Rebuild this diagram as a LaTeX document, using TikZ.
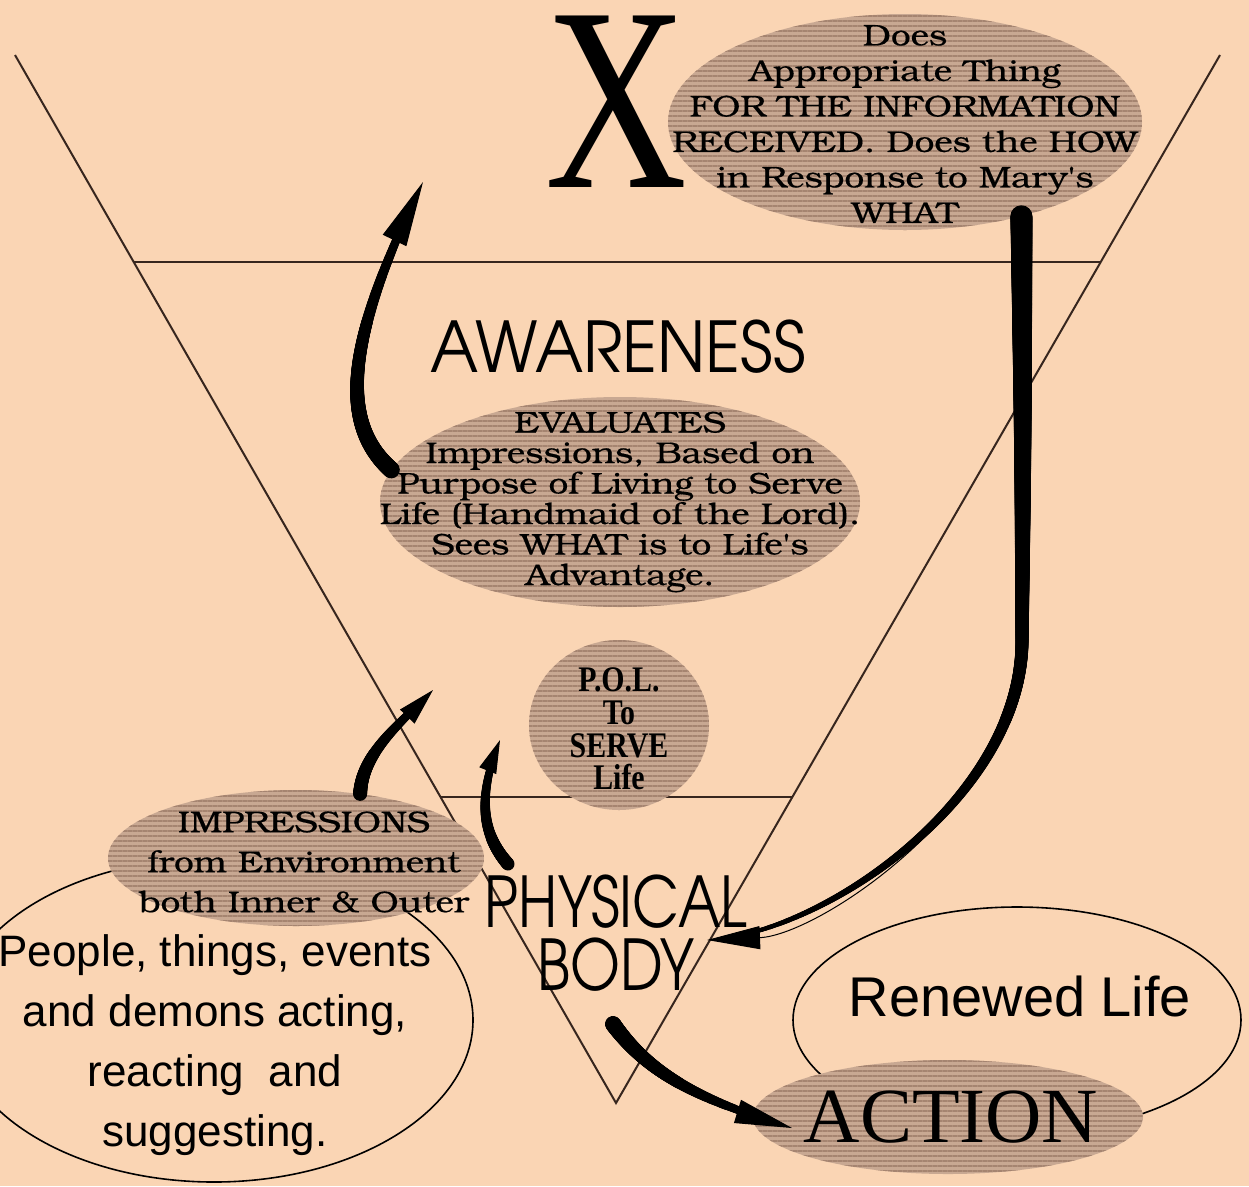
\documentclass[tikz,border=0pt]{standalone}
\usepackage{fontspec}
\setmainfont{Liberation Serif}
\newfontfamily\bookfont[FakeStretch=1.17, FakeBold=0.5]{TeX Gyre Bonum}
\newfontfamily\gothfont[FakeStretch=0.93]{TeX Gyre Adventor}
\newfontfamily\bodyfont[FakeStretch=0.82]{TeX Gyre Adventor}
\newfontfamily\arialfont{Liberation Sans}
\newfontfamily\polfont[FakeStretch=0.83]{Liberation Serif}
\usetikzlibrary{arrows.meta, patterns.meta, shapes.geometric, decorations.markings}

\definecolor{paper}{RGB}{250,213,180}
\definecolor{blobfill}{RGB}{200,168,146}
\definecolor{blobline}{RGB}{165,132,112}
\definecolor{inkline}{RGB}{55,38,30}

\tikzset{
  blob/.style={ellipse, inner sep=0pt, fill=blobfill,
    postaction={pattern={Lines[angle=0, distance=5pt, line width=2pt]}, pattern color=blobline}},
  ring/.style={ellipse, inner sep=0pt, draw=black, line width=1.6pt},
  vline/.style={draw=inkline, line width=2pt},
  taper/.style n args={3}{postaction={decorate, decoration={markings,
      mark=between positions 0 and #3 step 0.7pt with {%
        \pgfmathsetmacro\tapr{#1+(#2-#1)*\pgfkeysvalueof{/pgf/decoration/mark info/distance from start}/\pgfdecoratedpathlength}%
        \fill (0,0) circle (\tapr pt);}}}},
  headed/.style 2 args={line width=1pt, -{Triangle[length=#1pt, width=#2pt]}},
  words/.style={inner sep=0pt, align=center},
  booktext/.style={words, font=\bookfont\fontsize{30}{#1}\selectfont},
}

\begin{document}
\begin{tikzpicture}[x=1pt, y=-1pt]
\fill[paper] (0,0) rectangle (1249,1186);
\useasboundingbox (0,0) rectangle (1249,1186);

% the V and its two levels
\coordinate (vtl) at (15,55);
\coordinate (vtr) at (1220,55);
\coordinate (vbot) at (616,1103);
\draw[vline] (vtl) -- (vbot) -- (vtr);
\draw[vline] (134,262) -- (1101,262);
\draw[vline] (441,797) -- (792,797);

% outline rings
\node[ring, minimum width=518pt, minimum height=324pt] (people) at (214,1020) {};
\node[ring, minimum width=448pt, minimum height=226pt] (renewed) at (1017,1020) {};

% shaded blobs
\node[blob, minimum width=474pt, minimum height=216pt] (doing) at (905,122) {};
\node[blob, minimum width=480pt, minimum height=210pt] (evaluates) at (620,502) {};
\node[blob, minimum width=180pt, minimum height=170pt] (pol) at (619,725) {};
\node[blob, minimum width=376pt, minimum height=136pt] (impressions) at (296,858) {};
\node[blob, minimum width=390pt, minimum height=114pt] (action) at (948,1117) {};

% texts
\node[words, font=\fontsize{262}{262}\selectfont, anchor=base] (bigx) at (616,187) {\scalebox{0.75}[1]{X}};
\node[booktext=35.5] (doingtext) at (905,124) {Does\\Appropriate Thing\\FOR THE INFORMATION\\RECEIVED. Does the HOW\\in Response to Mary's\\WHAT};
\node[words, font=\gothfont\fontsize{70}{70}\selectfont, anchor=base] (aware) at (618,372) {AWARENESS};
\node[booktext=30.5] (evaltext) at (620,502) {EVALUATES\\Impressions, Based on\\Purpose of Living to Serve\\Life (Handmaid of the Lord).\\Sees WHAT is to Life's\\Advantage.};
\node[words, font=\polfont\bfseries\fontsize{36}{32.7}\selectfont] (poltext) at (619,729) {P.O.L.\\To\\SERVE\\Life};
\node[booktext=40] (imptext) at (304,862) {IMPRESSIONS\\from Environment\\both Inner \& Outer};
\node[words, font=\bodyfont\fontsize{70}{63}\selectfont] (physical) at (616,933) {PHYSICAL\\BODY};
\node[words, font=\arialfont\fontsize{44}{60}\selectfont] (peopletext) at (215,1045) {People, things, events\\and demons acting,\\reacting\ \ and\\suggesting.};
\node[words, font=\arialfont\fontsize{56}{56}\selectfont, anchor=base] (renewedtext) at (1020,1016) {Renewed Life};
\node[words, font=\fontsize{78}{78}\selectfont, anchor=base] (actiontext) at (951,1142) {ACTION};

% arrows
\coordinate (bend) at (1022,640);
\coordinate (bodyin) at (707,940);
\coordinate (awaretop) at (423,182);
\coordinate (imptip) at (433,690);
\coordinate (physout) at (508,864);
\coordinate (poltip) at (500,740);
\coordinate (bodyout) at (613,1024);
\coordinate (actionin) at (792,1128);

\draw[headed={53}{23}, taper={11}{1.5}{-50pt}] (doing.-39) .. controls (1023,450) .. (bend) .. controls (1022,800) and (820,935) .. (bodyin);
\draw[headed={65}{26}, taper={8.5}{3}{-60pt}] (evaluates.172) .. controls (335,420) and (350,332) .. (awaretop);
\draw[headed={37}{20}, taper={7}{3}{-34pt}] (impressions.45) .. controls (362,752) and (402,722) .. (imptip);
\draw[headed={33}{18}, taper={6.5}{3}{-30pt}] (physout) .. controls (478,830) and (480,790) .. (poltip);
\draw[headed={57}{24}, taper={8}{2.5}{-52pt}] (bodyout) .. controls (650,1075) and (700,1100) .. (actionin);
\end{tikzpicture}
\end{document}
